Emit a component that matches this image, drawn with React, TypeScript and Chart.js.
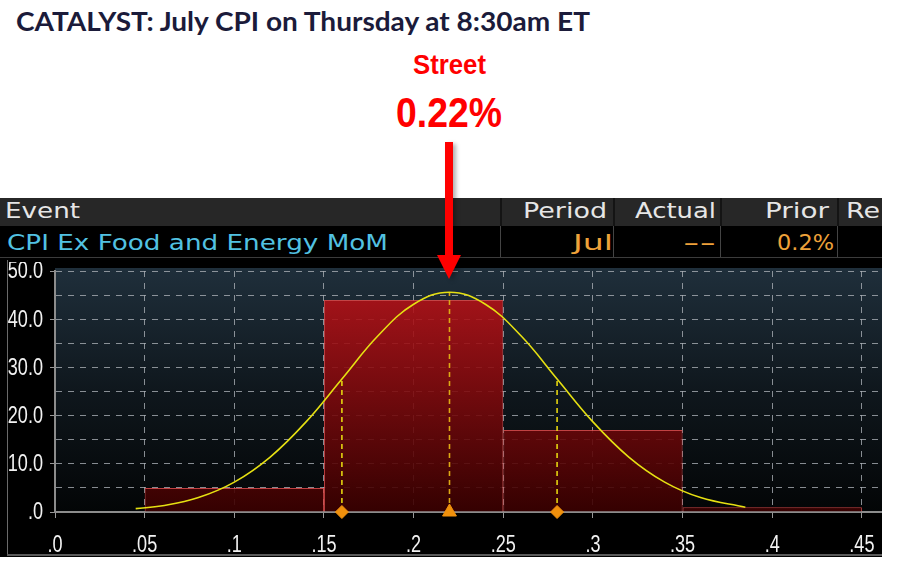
import React, { useEffect, useLayoutEffect, useRef } from "react";
import { Chart, registerables } from "chart.js";

Chart.register(...registerables);

// ---- data ----
const binCenters = [0.1, 0.2, 0.3, 0.4]; // histogram bins .05-.15, .15-.25, .25-.35, .35-.45
const binPct = [5, 44, 17, 1];

const curveX = [0.045, 0.06, 0.08, 0.1, 0.12, 0.14, 0.16, 0.18, 0.2, 0.22, 0.24, 0.26, 0.28, 0.3, 0.32, 0.34, 0.36, 0.385];
const curveY = [0.7, 1.3, 3.0, 6.2, 11.4, 18.7, 27.6, 36.5, 43.1, 45.6, 43.1, 36.5, 27.6, 18.7, 11.4, 6.2, 3.0, 1.0];

const guideX = [0.16, 0.22, 0.28];
const guideTop = [27.6, 45.6, 27.6];
const markerStyles = ["rectRot", "triangle", "rectRot"];
const markerRadius = [6.5, 8, 6.5];

const xMin = 0;
const xMax = 0.4612;
const xStep = 0.05;
const yMin = 0;
const yMax = 50;
const yStep = 5;
const yLabelEvery = 10;

const title = "CATALYST: July CPI on Thursday at 8:30am ET";
const streetLabel = "Street";
const streetValue = "0.22%";
const headerCols = ["Event", "Period", "Actual", "Prior", "Re"];
const rowCells = ["CPI Ex Food and Energy MoM", "Jul", "--", "0.2%"];

type FitProps = { left: number; top: number; width: number; font: string; color: string; text: string };

function Fit({ left, top, width, font, color, text }: FitProps) {
  const ref = useRef<HTMLSpanElement>(null);
  useLayoutEffect(() => {
    const el = ref.current;
    if (!el) return;
    el.style.transform = "none";
    const w = el.getBoundingClientRect().width;
    if (w > 0) el.style.transform = `scaleX(${width / w})`;
  }, [width, font, text]);
  return (
    <span
      ref={ref}
      style={{
        position: "absolute",
        left,
        top,
        font,
        color,
        whiteSpace: "nowrap",
        lineHeight: 1,
        display: "inline-block",
        transformOrigin: "0 0",
      }}
    >
      {text}
    </span>
  );
}

const TICK_FONT = "'Liberation Sans', Arial, sans-serif";
const TABLE_FONT = "'DejaVu Sans', Verdana, sans-serif";
const RED_FONT = "'Liberation Sans', Arial, sans-serif";
const GRID = "rgba(172,177,183,0.78)";

function fmtX(v: number): string {
  const r = Math.round(v * 100) / 100;
  if (r === 0) return ".0";
  return r.toString().replace(/^0/, "");
}

const bgPlugin = {
  id: "plotBg",
  beforeDraw(chart: any) {
    const { ctx, chartArea } = chart;
    if (!chartArea) return;
    const { left, top, right, bottom } = chartArea;
    ctx.save();
    const g = ctx.createLinearGradient(0, top - 3, 0, bottom);
    g.addColorStop(0, "#1f2f3b");
    g.addColorStop(0.5, "#0f171d");
    g.addColorStop(1, "#030506");
    ctx.fillStyle = g;
    ctx.fillRect(left, top - 3, right - left, bottom - top + 3);
    ctx.restore();
  },
};

// tick labels drawn in a condensed style (Bloomberg terminal look)
const narrowTicks = {
  id: "narrowTicks",
  afterDraw(chart: any) {
    const ctx = chart.ctx;
    const sx = 0.77;
    ctx.save();
    ctx.fillStyle = "#f2f2f2";
    ctx.font = `23.5px ${TICK_FONT}`;
    const ys = chart.scales.y;
    ctx.textAlign = "right";
    ctx.textBaseline = "middle";
    ys.ticks.forEach((t: any) => {
      if (!t.label) return;
      const py = ys.getPixelForValue(t.value);
      ctx.save();
      ctx.translate(ys.right - 12, py + 1);
      ctx.scale(sx, 1);
      ctx.fillText(t.label, 0, 0);
      ctx.restore();
    });
    const xs = chart.scales.x;
    ctx.textAlign = "center";
    xs.ticks.forEach((t: any) => {
      if (!t.label) return;
      const px = xs.getPixelForValue(t.value);
      ctx.save();
      ctx.translate(px, xs.top + 34);
      ctx.scale(sx, 1);
      ctx.fillText(t.label, 0, 0);
      ctx.restore();
    });
    ctx.restore();
  },
};

function HistChart() {
  const canvasRef = useRef<HTMLCanvasElement>(null);
  useEffect(() => {
    const canvas = canvasRef.current;
    if (!canvas) return;

    const barFill = (c: any) => {
      const chart = c.chart;
      const area = chart.chartArea;
      if (!area) return "rgba(150,10,10,0.88)";
      const g = chart.ctx.createLinearGradient(0, area.top, 0, area.bottom);
      g.addColorStop(0, "rgba(196,18,24,0.88)");
      g.addColorStop(1, "rgba(58,0,0,0.9)");
      return g;
    };

    const guideSets = guideX.map((gx, i) => ({
      type: "line" as const,
      data: [
        { x: gx, y: 0 },
        { x: gx, y: guideTop[i] },
      ],
      borderColor: i === 1 ? "#dca814" : "#e4d410",
      borderWidth: 1.6,
      borderDash: [5, 4],
      pointRadius: 0,
      fill: false,
      order: 2,
    }));

    const chart = new Chart(canvas, {
      type: "bar",
      data: {
        datasets: [
          {
            type: "scatter" as const,
            data: guideX.map((gx) => ({ x: gx, y: 0 })),
            pointStyle: markerStyles as any,
            pointRadius: markerRadius,
            backgroundColor: "#f0900c",
            borderColor: "#f0900c",
            borderWidth: 1,
            clip: false as any,
            order: 0,
          },
          {
            type: "line" as const,
            data: curveX.map((x, i) => ({ x, y: curveY[i] })),
            borderColor: "#e6e012",
            borderWidth: 1.6,
            tension: 0.4,
            pointRadius: 0,
            fill: false,
            order: 1,
          },
          ...guideSets,
          {
            type: "bar" as const,
            data: binCenters.map((x, i) => ({ x, y: binPct[i] })),
            backgroundColor: barFill,
            borderColor: "rgba(214,72,72,0.9)",
            borderWidth: 1,
            barPercentage: 1,
            categoryPercentage: 2, // tick spacing is half the bin width
            order: 10,
          },
        ] as any,
      },
      options: {
        animation: false,
        responsive: false,
        events: [],
        layout: { autoPadding: false, padding: { top: 9, left: 0, right: 0, bottom: 0 } },
        plugins: { legend: { display: false }, tooltip: { enabled: false } },
        scales: {
          x: {
            type: "linear",
            min: xMin,
            max: xMax,
            bounds: "data",
            offset: false,
            afterFit: (s: any) => {
              s.height = 44;
              s.paddingLeft = 0;
              s.paddingRight = 0;
            },
            ticks: {
              display: false,
              stepSize: xStep,
              includeBounds: false,
              autoSkip: false,
              maxRotation: 0,
              callback: (v: any) => fmtX(Number(v)),
            },
            grid: {
              color: GRID,
              lineWidth: 1,
              offset: false,
              tickLength: 6,
              tickColor: "rgba(160,160,160,0.95)",
            },
            border: { display: true, color: "#8c8c8c", width: 2, dash: [6, 6] },
          },
          y: {
            type: "linear",
            min: yMin,
            max: yMax,
            bounds: "data",
            afterFit: (s: any) => {
              s.width = 55;
              s.paddingTop = 0;
              s.paddingBottom = 0;
            },
            ticks: {
              display: false,
              stepSize: yStep,
              includeBounds: false,
              autoSkip: false,
              callback: (v: any) => {
                const n = Number(v);
                if (n % yLabelEvery !== 0) return "";
                return n === 0 ? ".0" : n.toFixed(1);
              },
            },
            grid: {
              color: GRID,
              lineWidth: 1,
              tickLength: 5,
              tickColor: (c: any) => (c.tick && c.tick.value % yLabelEvery === 0 ? "rgba(160,160,160,0.95)" : "rgba(0,0,0,0)"),
            },
            border: { display: true, color: "#8c8c8c", width: 2, dash: [6, 6] },
          },
        },
      } as any,
      plugins: [bgPlugin, narrowTicks],
    });
    return () => chart.destroy();
  }, []);
  return <canvas ref={canvasRef} width={882} height={294} style={{ display: "block" }} />;
}

export default function App() {
  return (
    <div style={{ position: "fixed", left: 0, top: 0, width: 897, height: 564, background: "#fff", overflow: "hidden" }}>
      {/* title */}
      <Fit left={16} top={8} width={574} font="700 26px Lato, 'Open Sans', sans-serif" color="#1b1b3a" text={title} />
      {/* street estimate */}
      <Fit left={413} top={51} width={73} font={`700 28px ${RED_FONT}`} color="#ff0000" text={streetLabel} />
      <Fit left={396} top={92} width={106} font={`700 42px ${RED_FONT}`} color="#ff0000" text={streetValue} />

      {/* black terminal panel */}
      <div style={{ position: "absolute", left: 0, top: 198, width: 882, height: 359, background: "#000", overflow: "hidden" }}>
        <div style={{ position: "absolute", left: 0, top: 0, width: 882, height: 28, background: "#272727" }} />
        {[500, 613, 720, 837].map((x) => (
          <React.Fragment key={x}>
            <div style={{ position: "absolute", left: x, top: 0, width: 2, height: 28, background: "#141414" }} />
            <div style={{ position: "absolute", left: x, top: 28, width: 1, height: 31, background: "#444" }} />
          </React.Fragment>
        ))}
        <div style={{ position: "absolute", left: 0, top: 59, width: 882, height: 1, background: "#3c3c3c" }} />
        <Fit left={5} top={1.5} width={75} font={`22px ${TABLE_FONT}`} color="#e6e6e6" text={headerCols[0]} />
        <Fit left={523} top={1.5} width={84} font={`22px ${TABLE_FONT}`} color="#e6e6e6" text={headerCols[1]} />
        <Fit left={635} top={1.5} width={81} font={`22px ${TABLE_FONT}`} color="#e6e6e6" text={headerCols[2]} />
        <Fit left={765} top={1.5} width={64} font={`22px ${TABLE_FONT}`} color="#e6e6e6" text={headerCols[3]} />
        <Fit left={846} top={1.5} width={34} font={`22px ${TABLE_FONT}`} color="#e6e6e6" text={headerCols[4]} />
        <Fit left={7} top={33.5} width={381} font={`22px ${TABLE_FONT}`} color="#52c2e2" text={rowCells[0]} />
        <Fit left={573} top={33.5} width={40} font={`22px ${TABLE_FONT}`} color="#eea23a" text={rowCells[1]} />
        <Fit left={683} top={33.5} width={33} font={`22px ${TABLE_FONT}`} color="#eea23a" text={rowCells[2]} />
        <Fit left={777} top={33.5} width={57} font={`22px ${TABLE_FONT}`} color="#eea23a" text={rowCells[3]} />

        {/* chart */}
        <div style={{ position: "absolute", left: 0, top: 64, width: 882, height: 294 }}>
          <HistChart />
        </div>
        <div style={{ position: "absolute", left: 7, top: 62, width: 1, height: 295, background: "#6a6a6a" }} />
        <div style={{ position: "absolute", left: 7, top: 356, width: 875, height: 2, background: "#5a5a5a" }} />
      </div>

      {/* arrow */}
      <svg
        width={40}
        height={150}
        style={{ position: "absolute", left: 429, top: 138, overflow: "visible", filter: "drop-shadow(3px 2px 2px rgba(0,0,0,0.3))" }}
      >
        <rect x={16} y={4} width={8} height={116} fill="#ff0000" />
        <polygon points="8,117 32,117 20,141" fill="#ff0000" />
      </svg>
    </div>
  );
}
